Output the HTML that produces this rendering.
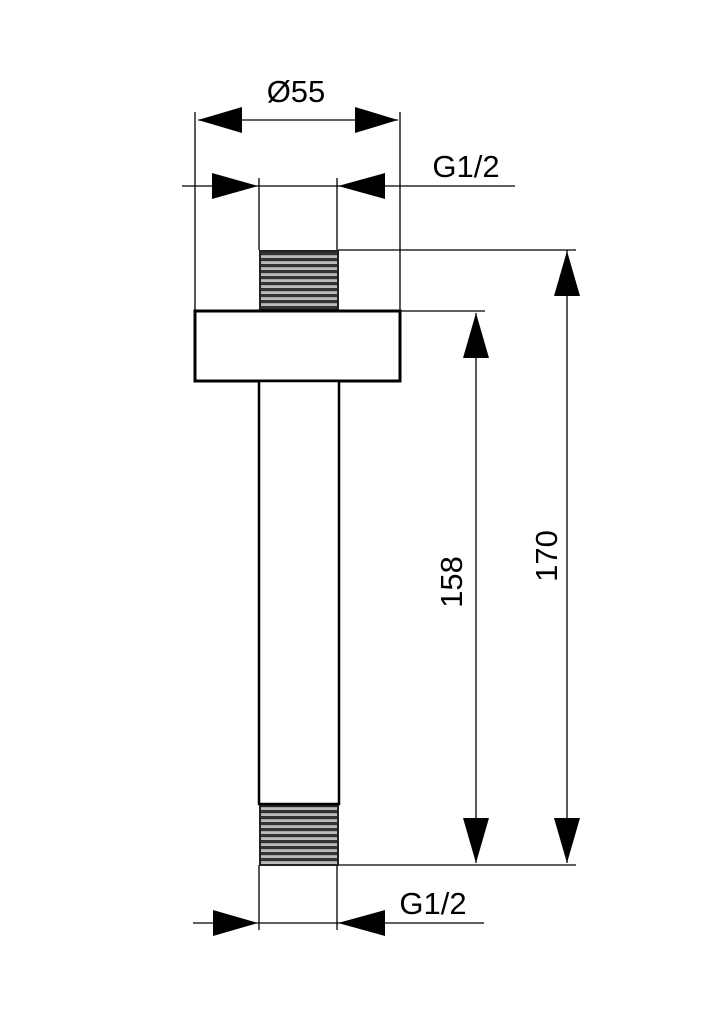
<!DOCTYPE html>
<html><head><meta charset="utf-8"><style>html,body{margin:0;padding:0;background:#fff}</style></head>
<body>
<svg width="724" height="1024" viewBox="0 0 724 1024" xmlns="http://www.w3.org/2000/svg">
<defs>
<pattern id="thr" width="10" height="6" patternUnits="userSpaceOnUse">
<rect width="10" height="6" fill="#bbb"/>
<rect y="0" width="10" height="3.2" fill="#333"/>
</pattern>
</defs>
<g stroke="#000" stroke-width="1.3" fill="none">
<line x1="195" y1="112" x2="195" y2="312"/>
<line x1="400" y1="112" x2="400" y2="312"/>
<line x1="198" y1="120" x2="398" y2="120"/>
<line x1="182" y1="186" x2="515" y2="186"/>
<line x1="259" y1="178" x2="259" y2="250"/>
<line x1="337" y1="178" x2="337" y2="250"/>
<line x1="338" y1="250" x2="576" y2="250"/>
<line x1="400" y1="311" x2="485" y2="311"/>
<line x1="338" y1="865" x2="576" y2="865"/>
<line x1="476" y1="313" x2="476" y2="863"/>
<line x1="567" y1="250" x2="567" y2="863"/>
<line x1="193" y1="923" x2="484" y2="923"/>
<line x1="259" y1="865" x2="259" y2="930"/>
<line x1="337" y1="865" x2="337" y2="930"/>
</g>
<rect x="260" y="251" width="78" height="59" fill="url(#thr)" stroke="#222" stroke-width="2"/>
<rect x="260" y="806" width="78" height="59" fill="url(#thr)" stroke="#222" stroke-width="2"/>
<rect x="195" y="311" width="205" height="70" fill="#fff" stroke="#000" stroke-width="3"/>
<rect x="259" y="381" width="80" height="423" fill="#fff" stroke="#000" stroke-width="2.5"/>
<g fill="#000">
<polygon points="198,120 242,107 242,133"/>
<polygon points="398,120 355,107 355,133"/>
<polygon points="258,186 212,173 212,199"/>
<polygon points="338,186 385,173 385,199"/>
<polygon points="258,923 213,910 213,936"/>
<polygon points="338,923 385,910 385,936"/>
<polygon points="476,313 463,358 489,358"/>
<polygon points="476,863 463,818 489,818"/>
<polygon points="567,251 554,296 580,296"/>
<polygon points="567,863 554,818 580,818"/>
</g>
<g font-family="Liberation Sans, sans-serif" font-size="31" fill="#000">
<text x="296" y="102" text-anchor="middle">Ø55</text>
<text x="466" y="177" text-anchor="middle">G1/2</text>
<text x="433" y="914" text-anchor="middle">G1/2</text>
<text transform="translate(462,582) rotate(-90)" text-anchor="middle">158</text>
<text transform="translate(557,556) rotate(-90)" text-anchor="middle">170</text>
</g>
</svg>
</body></html>
